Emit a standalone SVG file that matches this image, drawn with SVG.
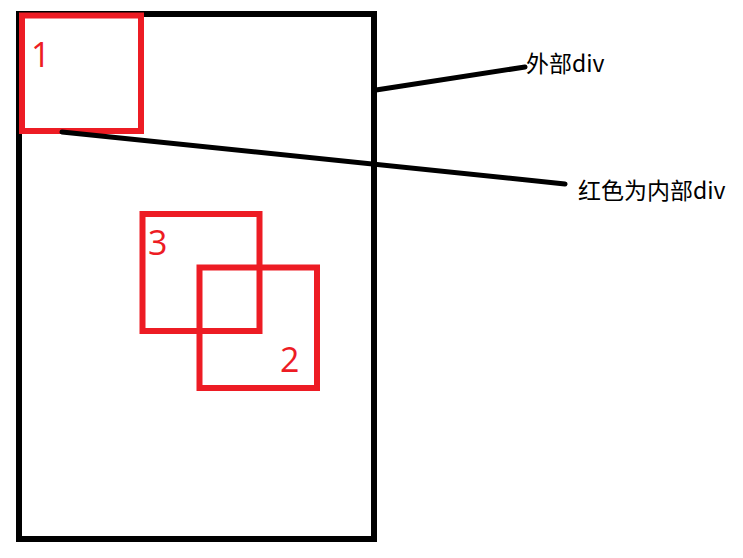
<svg xmlns="http://www.w3.org/2000/svg" width="743" height="558" viewBox="0 0 743 558">
<style>
.outer{fill:none;stroke:#000;stroke-width:6}
.inner{fill:none;stroke:#ed1c24;stroke-width:6}
.num{font-family:"Open Sans","Noto Sans",sans-serif;fill:#ed1c24;font-size:34px}
.lbl{font-family:"Noto Sans CJK SC","Noto Sans",sans-serif;fill:#000;font-size:23px}
.conn{stroke:#000;stroke-width:5;stroke-linecap:round;fill:none}
</style>
<rect width="743" height="558" fill="#fff"/>
<g id="outer-div"><rect class="outer" x="19" y="14" width="355" height="525"/></g>
<g id="div1"><rect class="inner" x="22" y="15.5" width="119" height="115.5"/><text class="num" x="31" y="67">1</text></g>
<g id="div3"><rect class="inner" x="142.5" y="214" width="117" height="117"/><text class="num" x="148" y="255">3</text></g>
<g id="div2"><rect class="inner" x="199.5" y="267.5" width="117.5" height="120.5"/><text class="num" x="280" y="372">2</text></g>
<g id="connectors">
<line class="conn" x1="376" y1="90" x2="525" y2="67"/>
<line class="conn" x1="62" y1="132" x2="565" y2="184"/>
</g>
<g id="label-outer"><text class="lbl" x="526" y="72">外部div</text></g>
<g id="label-inner"><text class="lbl" x="578" y="199">红色为内部div</text></g>
</svg>
